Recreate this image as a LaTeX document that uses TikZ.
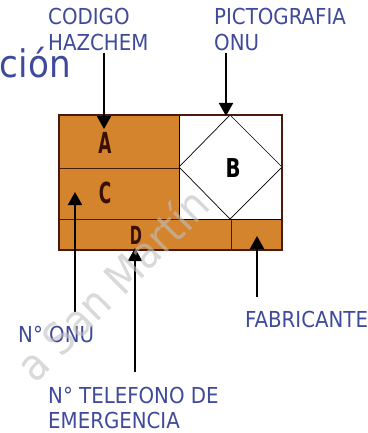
\documentclass[tikz,border=0pt]{standalone}
\usepackage{fontspec}
\setmainfont{DejaVu Sans Condensed}
\newfontfamily\cellfont{DejaVu Sans Condensed Bold}
\usetikzlibrary{arrows.meta}
\definecolor{lbl}{HTML}{3F4A9A}
\definecolor{cellor}{HTML}{D4842C}
\definecolor{celline}{HTML}{4A1A0A}
\definecolor{celltxt}{HTML}{3A0F05}
\tikzset{
  lab/.style={font=\fontsize{22}{24}\selectfont, text=lbl, anchor=base west, inner sep=0pt},
  cell/.style={draw=celline, line width=0.9pt, fill=cellor},
  celllet/.style={font=\cellfont\fontsize{29}{29}\selectfont, text=celltxt, xscale=0.65, inner sep=0pt},
  arr/.style={line width=2pt, -{Triangle[width=14pt,length=13pt]}}
}
\begin{document}
\begin{tikzpicture}[x=1pt,y=-1pt]
\useasboundingbox (0,0) rectangle (367,433);
% title fragment
\node[anchor=base east, text=lbl, font=\fontsize{38}{38}\selectfont, inner sep=0pt] (title) at (71,78) {ción};
% cells
\draw[cell] (59,115) rectangle (179,168);
\draw[cell] (59,168) rectangle (179,219);
\draw[cell] (59,219) rectangle (231,250);
\draw[cell] (231,219) rectangle (282,250);
\draw[draw=black, line width=0.9pt, fill=white] (179,115) rectangle (282,219);
\draw[black, line width=0.7pt] (230,115) -- (282,167) -- (230,219) -- (179,167) -- cycle;
\draw[celline, line width=1.4pt] (59,115) rectangle (282,250);
\node[celllet] (la) at (105,143) {A};
\node[celllet] (lc) at (105,193) {C};
\node[celllet, font=\cellfont\fontsize{25}{25}\selectfont] (ld) at (136,235) {D};
\node[font=\cellfont\fontsize{26}{26}\selectfont, text=black, xscale=0.84, inner sep=0pt] (lb) at (233,168) {B};
% labels
\node[lab] (hz1) at (48,25) {CODIGO};
\node[lab] (hz2) at (48,51) {HAZCHEM};
\node[lab] (pc1) at (214,25) {PICTOGRAFIA};
\node[lab] (pc2) at (214,51) {ONU};
\node[lab] (onu) at (18,342) {N° ONU};
\node[lab] (fab) at (245,327) {FABRICANTE};
\node[lab] (tel1) at (48,403) {N° TELEFONO DE};
\node[lab] (tel2) at (48,428) {EMERGENCIA};
% arrow ends
\coordinate (hzS) at (104,53);  \coordinate (hzE) at (104,129);
\coordinate (pcS) at (226,53);  \coordinate (pcE) at (226,116);
\coordinate (onS) at (75,312);  \coordinate (onE) at (75,192);
\coordinate (teS) at (135,372); \coordinate (teE) at (135,248);
\coordinate (faS) at (257,297); \coordinate (faE) at (257,236);
\draw[arr] (hzS) -- (hzE);
\draw[arr] (pcS) -- (pcE);
\draw[arr] (onS) -- (onE);
\draw[arr] (teS) -- (teE);
\draw[arr] (faS) -- (faE);
% watermark
\node[rotate=45, text=gray!50, opacity=0.6, font=\fontsize{44}{44}\selectfont, inner sep=0pt] (wm) at (112,284) {a San Martín};
\end{tikzpicture}
\end{document}
